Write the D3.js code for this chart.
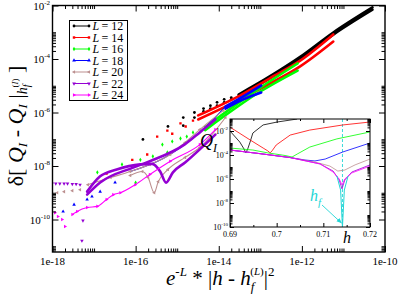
<!DOCTYPE html>
<html>
<head>
<meta charset="utf-8">
<script src="https://cdn.jsdelivr.net/npm/d3@7"></script>
<style>
  body { margin: 0; background: #fff; }
  svg { display: block; }
  text { font-family: "Liberation Serif", "DejaVu Serif", serif; fill: #000; }
  .domain { display: none; }
  .tick line { stroke: #000; }
</style>
</head>
<body>
<svg id="chart" width="399" height="302"></svg>
<script>
var sizes = [12, 14, 16, 18, 20, 22, 24];
var colors = ["#000000", "#ff0000", "#00ff00", "#0000ff", "#bc8f8f", "#9400d3", "#ff00ff"];
var xTickValues = [1e-18, 1e-16, 1e-14, 1e-12, 1e-10];
var xTickLabels = ["1e-18", "1e-16", "1e-14", "1e-12", "1e-10"];
var yTickExps = [-10, -8, -6, -4, -2];
var insetXTicks = [0.69, 0.7, 0.71, 0.72];
var insetXLabels = ["0.69", "0.7", "0.71", "0.72"];
var insetYExps = [-10, -8, -6, -4, -2];
var hf = 0.7141;

// main panel: [e^-L |h-hf|^2, deviation]
var dots12 = [[1.5e-16, 9.8e-8], [6.0e-16, 3.0e-7], [1.4e-15, 6.5e-7], [1.4e-15, 3.2e-7],
  [2.6e-15, 1.0e-6], [2.6e-15, 6.5e-7], [4.3e-15, 1.4e-6], [4.3e-15, 1.1e-6],
  [6.3e-15, 1.8e-6], [6.3e-15, 1.4e-6], [9.1e-15, 2.4e-6], [9.1e-15, 1.8e-6],
  [1.35e-14, 3.1e-6], [1.35e-14, 2.4e-6], [2.0e-14, 3.6e-6], [2.0e-14, 3.1e-6]];
var band12a = [[3.0e-14, 4.7e-6], [1.5e-13, 2.0e-5], [9.1e-13, 1.2e-4], [5.7e-12, 9.8e-4], [5.0e-11, 8.5e-3]];
var band12b = [[3.0e-14, 4.0e-6], [1.5e-13, 1.7e-5], [9.1e-13, 1.0e-4], [5.7e-12, 8.2e-4], [5.0e-11, 7.0e-3]];

var dots14 = [[2.0e-17, 5.2e-9], [8.3e-17, 1.7e-8], [1.9e-16, 2.7e-8], [3.3e-16, 1.26e-7],
  [5.8e-16, 2.1e-7], [7.6e-16, 1.6e-7], [1.2e-15, 3.9e-7], [1.6e-15, 3.0e-7], [2.4e-15, 5.0e-7]];
var band14a = [[3.2e-15, 7.8e-7], [3.3e-14, 4.4e-6], [1.7e-13, 1.9e-5], [9.1e-13, 8.7e-5], [5.7e-12, 8.3e-4]];
var band14b = [[3.2e-15, 5.5e-7], [3.3e-14, 3.1e-6], [1.7e-13, 1.2e-5], [9.1e-13, 5.3e-5], [5.7e-12, 4.5e-4]];

var dots16 = [[1.2e-17, 5.8e-9], [4.7e-17, 1.15e-8], [1.0e-16, 2.4e-9], [1.3e-16, 1.7e-8],
  [2.6e-16, 2.3e-8], [5.8e-16, 3.2e-8], [4.4e-16, 6.3e-8], [7.6e-16, 8.3e-8],
  [1.2e-15, 1.07e-7], [1.7e-15, 1.26e-7], [2.4e-15, 1.8e-7]];
var band16a = [[4.7e-15, 2.8e-7], [1.0e-13, 8.5e-6], [7.9e-13, 6.8e-5]];
var band16b = [[4.7e-15, 2.2e-7], [1.0e-13, 6.1e-6], [7.9e-13, 3.7e-5]];

var dots18 = [[1.8e-18, 2.0e-10], [3.3e-18, 3.6e-10], [6.8e-18, 5.6e-10], [8.9e-18, 7.2e-10],
  [1.4e-17, 1.1e-9], [3.2e-17, 2.4e-9]];
var line18 = [[7.4e-17, 6.2e-9], [4.6e-16, 1.9e-8], [3.5e-15, 1.8e-7], [1.45e-14, 1.66e-6]];
var band18a = [[1.45e-14, 1.66e-6], [3.9e-14, 4.0e-6], [1.05e-13, 1.02e-5]];
var band18b = [[1.45e-14, 1.4e-6], [3.9e-14, 3.1e-6], [1.05e-13, 5.6e-6]];

var dots20 = [[1.3e-18, 1.0e-9], [1.9e-18, 1.1e-9], [3.0e-18, 1.2e-9], [4.6e-18, 1.3e-9]];
var arc20 = [[7.1e-18, 2.0e-9], [2.5e-17, 3.7e-9], [7.4e-17, 6.2e-9], [2.2e-16, 1.15e-8],
  [6.8e-16, 2.7e-8], [1.55e-15, 7.6e-8], [3.5e-15, 2.3e-7], [1.3e-14, 1.2e-6]];
var vee20 = [[7.4e-17, 4.4e-9], [1.45e-16, 6.2e-9], [2.0e-16, 3.7e-9], [2.8e-16, 1.0e-9],
  [3.5e-16, 2.6e-9], [6.0e-16, 7.4e-9], [1.55e-15, 2.1e-8], [3.5e-15, 4.9e-8], [1.45e-14, 6.5e-7]];

var dots22 = [[9.8e-19, 2.2e-9], [1.2e-18, 2.2e-9], [1.5e-18, 2.2e-9], [1.9e-18, 2.2e-9],
  [2.3e-18, 2.2e-9], [3.0e-18, 2.1e-9], [3.7e-18, 2.1e-9], [4.6e-18, 2.0e-9],
  [5.1e-18, 1.6e-11], [5.4e-18, 9.1e-11]];
var arc22a = [[6.8e-18, 1.1e-9], [1.4e-17, 4.1e-9], [3.5e-17, 7.4e-9], [1.3e-16, 1.15e-8],
  [2.5e-16, 1.2e-8], [3.9e-16, 6.2e-9], [5.4e-16, 2.4e-9], [7.9e-16, 5.8e-9],
  [1.55e-15, 1.35e-8], [3.5e-15, 4.2e-8], [8.3e-15, 1.5e-7]];
var arc22b = [[6.8e-18, 8.5e-10], [1.4e-17, 2.4e-9], [8.7e-17, 8.7e-9], [2.2e-16, 1.5e-8],
  [1.55e-15, 6.6e-8], [3.5e-15, 1.8e-7], [8.3e-15, 5.5e-7]];

var dots24 = [[8.7e-19, 2.0e-10], [1.15e-18, 1.8e-10], [1.35e-18, 1.3e-10], [1.7e-18, 1.0e-10],
  [2.0e-18, 5.5e-11]];
var line24 = [[3.0e-18, 1.55e-10], [3.9e-18, 2.0e-10], [6.8e-18, 2.8e-10], [1.2e-17, 3.1e-10],
  [2.0e-17, 5.6e-10], [2.9e-17, 8.5e-10], [4.3e-17, 1.0e-9], [9.8e-17, 2.0e-9],
  [2.2e-16, 4.8e-9], [6.8e-16, 1.5e-8], [3.5e-15, 6.3e-8], [8.3e-15, 2.3e-7]];

// inset: [h, Q]
var inset12 = [[0.690, 1.0e-2], [0.6921, 1.2e-3], [0.6930, 3.2e-4], [0.6934, 1.5e-4], [0.6938, 3.2e-4],
  [0.6943, 1.2e-3], [0.6949, 6.8e-3], [0.6971, 3.2e-2], [0.7001, 5.6e-2], [0.7044, 0.1]];
var inset14 = [[0.690, 2.1e-2], [0.6943, 1.8e-3], [0.6971, 3.8e-4], [0.6981, 2.2e-4], [0.6986, 1.5e-4],
  [0.6990, 2.2e-4], [0.6999, 6.8e-4], [0.7029, 4.6e-3], [0.7071, 1.2e-2], [0.7142, 3.2e-2], [0.720, 5.6e-2]];
var inset16 = [[0.690, 3.8e-4], [0.6949, 2.6e-4], [0.6981, 1.5e-4], [0.7018, 9.1e-5], [0.7033, 6.8e-5],
  [0.7044, 1.2e-4], [0.7071, 4.6e-4], [0.7129, 2.2e-3], [0.720, 8.3e-3]];
var inset18 = [[0.690, 2.6e-4], [0.6964, 1.3e-4], [0.7029, 6.1e-5], [0.7061, 3.8e-5], [0.7082, 3.2e-5],
  [0.7104, 4.6e-5], [0.7142, 1.8e-4], [0.720, 1.0e-3]];
var inset20 = [[0.690, 2.6e-4], [0.6964, 1.3e-4], [0.7029, 6.1e-5], [0.7082, 2.6e-5], [0.7114, 1.2e-5],
  [0.7131, 4.6e-6], [0.7146, 5.6e-6], [0.7168, 1.5e-5], [0.720, 4.6e-5]];
var inset22 = [[0.690, 2.6e-4], [0.6964, 1.3e-4], [0.7029, 6.1e-5], [0.7093, 1.8e-5], [0.7121, 4.6e-6],
  [0.7134, 8.3e-7], [0.7140, 1.5e-7], [0.7146, 8.3e-7], [0.7161, 3.8e-6], [0.720, 1.5e-5]];
var inset24 = [[0.690, 2.6e-4], [0.6964, 1.3e-4], [0.7029, 6.1e-5], [0.7093, 1.8e-5], [0.7121, 3.8e-6],
  [0.7134, 1.0e-6], [0.7140, 3.2e-7], [0.7146, 1.0e-6], [0.7161, 3.2e-6], [0.720, 1.2e-5]];
var insetHf = [[0.7129, 1.8e-6], [0.7137, 1.2e-7], [0.7141, 1.0e-10], [0.7145, 1.2e-7], [0.7153, 1.8e-6]];

var series = [
  { dots: dots12, thin: [], thick: [band12a, band12b], inset: inset12 },
  { dots: dots14, thin: [], thick: [band14a, band14b], inset: inset14 },
  { dots: dots16, thin: [], thick: [band16a, band16b], inset: inset16 },
  { dots: dots18, thin: [line18], thick: [band18a, band18b], inset: inset18 },
  { dots: dots20.concat(arc20, vee20), thin: [arc20, vee20], thick: [], inset: inset20 },
  { dots: dots22, thin: [], thick: [arc22a, arc22b], inset: inset22 },
  { dots: dots24.concat(line24), thin: [line24], thick: [], inset: inset24 }
];
var symTypes = [d3.symbolCircle, d3.symbolSquare, d3.symbolDiamond, d3.symbolTriangle,
  d3.symbolTriangle, d3.symbolTriangle, d3.symbolTriangle];
var symRot = [0, 0, 0, 0, -90, 180, 90];
var cyan = "#22d6d6";

var svg = d3.select("#chart");
var x = d3.scaleLog().domain([1e-18, 1e-10]).range([52.5, 385]);
var y = d3.scaleLog().domain([6.1e-12, 1e-2]).range([252, 5.5]);

svg.append("clipPath").attr("id", "plotclip").append("rect")
  .attr("x", 52.5).attr("y", 5.5).attr("width", 332.5).attr("height", 246.5);

var plot = svg.append("g").attr("clip-path", "url(#plotclip)");
var line = d3.line().x((d) => x(d[0])).y((d) => y(d[1])).curve(d3.curveMonotoneX);

series.forEach(function (s, i) {
  var g = plot.append("g");
  s.thick.forEach(function (b) {
    g.append("path").datum(b).attr("d", line).attr("fill", "none")
      .attr("stroke", colors[i]).attr("stroke-width", 2.6).attr("stroke-linecap", "round");
  });
  s.thin.forEach(function (b) {
    g.append("path").datum(b).attr("d", line).attr("fill", "none")
      .attr("stroke", colors[i]).attr("stroke-width", 1.1);
  });
  var sym = d3.symbol().type(symTypes[i]).size(i === 0 ? 6 : 5.5);
  g.selectAll(".pt").data(s.dots).enter().append("path")
    .attr("transform", (d) => "translate(" + x(d[0]) + "," + y(d[1]) + ") rotate(" + symRot[i] + ")")
    .attr("d", sym).attr("fill", colors[i]);
});

// ticks
function minors(majors) {
  var out = [];
  majors.forEach(function (v) {
    for (var k = 2; k <= 10; k++) out.push(v * k);
  });
  return out;
}
var xMinor = minors([1e-18, 1e-16, 1e-14, 1e-12]);
var yMinor = minors([1e-12, 1e-10, 1e-8, 1e-6, 1e-4]).filter((v) => v > 6.1e-12 && v < 1e-2);
var yMajor = yTickExps.map((e) => Number("1e" + e));

function tickSet(axis, scale, vals, size, tr) {
  svg.append("g").attr("transform", tr)
    .call(axis(scale).tickValues(vals).tickSize(size).tickFormat(""));
}
tickSet(d3.axisBottom, x, xTickValues, -6, "translate(0,252)");
tickSet(d3.axisBottom, x, xMinor, -3.5, "translate(0,252)");
tickSet(d3.axisTop, x, xTickValues, -6, "translate(0,5.5)");
tickSet(d3.axisTop, x, xMinor, -3.5, "translate(0,5.5)");
tickSet(d3.axisLeft, y, yMajor, -6, "translate(52.5,0)");
tickSet(d3.axisLeft, y, yMinor, -3.5, "translate(52.5,0)");
tickSet(d3.axisRight, y, yMajor, -6, "translate(385,0)");
tickSet(d3.axisRight, y, yMinor, -3.5, "translate(385,0)");

svg.append("rect").attr("x", 52.5).attr("y", 5.5).attr("width", 332.5).attr("height", 246.5)
  .attr("fill", "none").attr("stroke", "#000").attr("stroke-width", 1.4);

xTickValues.forEach(function (v, i) {
  svg.append("text").attr("x", x(v)).attr("y", 265).attr("text-anchor", "middle")
    .style("font-size", "11px").text(xTickLabels[i]);
});
yTickExps.forEach(function (e, i) {
  var t = svg.append("text").attr("x", 50).attr("y", y(yMajor[i]) + 4)
    .attr("text-anchor", "end").style("font-size", "11px");
  t.append("tspan").text("10");
  t.append("tspan").attr("dy", -5).style("font-size", "7px").text(e);
});

// axis titles
var yl = svg.append("text").attr("transform", "translate(23,126) rotate(-90)")
  .attr("text-anchor", "middle").style("font-size", "22px");
yl.append("tspan").text("δ[ ");
yl.append("tspan").style("font-style", "italic").text("Q");
yl.append("tspan").style("font-style", "italic").style("font-size", "13px").attr("dy", 4).text("I");
yl.append("tspan").attr("dy", -4).text(" - ");
yl.append("tspan").style("font-style", "italic").text("Q");
yl.append("tspan").style("font-style", "italic").style("font-size", "13px").attr("dy", 4).text("I");
yl.append("tspan").attr("dy", -4).text(" |");
yl.append("tspan").style("font-style", "italic").style("font-size", "14px").attr("dy", 4).text("h");
yl.append("tspan").style("font-style", "italic").style("font-size", "10px").attr("dy", 3).text("f");
yl.append("tspan").style("font-size", "9px").attr("dy", -12).attr("dx", -3).text("(");
yl.append("tspan").style("font-style", "italic").style("font-size", "9px").text("I");
yl.append("tspan").style("font-size", "9px").text(")");
yl.append("tspan").attr("dy", 5).text(" ]");

var xl = svg.append("text").attr("x", 166).attr("y", 285).style("font-size", "21px");
xl.append("tspan").style("font-style", "italic").text("e");
xl.append("tspan").style("font-size", "13px").attr("dy", -9).text("-");
xl.append("tspan").style("font-size", "13px").style("font-style", "italic").text("L");
xl.append("tspan").attr("dy", 9).text(" * |");
xl.append("tspan").style("font-style", "italic").text("h");
xl.append("tspan").text(" - ");
xl.append("tspan").style("font-style", "italic").text("h");
xl.append("tspan").style("font-style", "italic").style("font-size", "13px").attr("dy", 6).text("f");
xl.append("tspan").style("font-size", "11px").attr("dy", -16).attr("dx", -4).text("(");
xl.append("tspan").style("font-size", "11px").style("font-style", "italic").text("L");
xl.append("tspan").style("font-size", "11px").text(")");
xl.append("tspan").attr("dy", 10).text("|");
xl.append("tspan").style("font-size", "13px").attr("dy", -9).text("2");

// legend
var lg = svg.append("g");
lg.append("rect").attr("x", 69.5).attr("y", 20.5).attr("width", 58).attr("height", 80)
  .attr("fill", "#fff").attr("stroke", "#000").attr("stroke-width", 1);
sizes.forEach(function (L, i) {
  var ly = 26 + i * 11.5;
  lg.append("line").attr("x1", 74).attr("x2", 89).attr("y1", ly).attr("y2", ly)
    .attr("stroke", colors[i]).attr("stroke-width", 1);
  var sym = d3.symbol().type(symTypes[i]).size(6);
  [74, 89].forEach(function (lx) {
    lg.append("path").attr("transform", "translate(" + lx + "," + ly + ") rotate(" + symRot[i] + ")")
      .attr("d", sym).attr("fill", colors[i]);
  });
  lg.append("text").attr("x", 92.5).attr("y", ly + 4).style("font-size", "12px")
    .style("font-style", "italic").text("L");
  lg.append("text").attr("x", 101.5).attr("y", ly + 4).style("font-size", "12px")
    .text("= " + L);
});

// inset
var ix = d3.scaleLinear().domain([0.69, 0.72]).range([230, 370]);
var iy = d3.scaleLog().domain([1e-10, 1e-1]).range([227, 119]);
var inset = svg.append("g");
inset.append("rect").attr("x", 230).attr("y", 119).attr("width", 140).attr("height", 108).attr("fill", "#fff");
svg.append("clipPath").attr("id", "insetclip").append("rect")
  .attr("x", 230).attr("y", 119).attr("width", 140).attr("height", 108);
var ig = inset.append("g").attr("clip-path", "url(#insetclip)");
var iline = d3.line().x((d) => ix(d[0])).y((d) => iy(d[1]));

ig.append("line").attr("x1", ix(hf)).attr("x2", ix(hf)).attr("y1", 119).attr("y2", 227)
  .attr("stroke", cyan).attr("stroke-width", 0.9).attr("stroke-dasharray", "3,2");
series.forEach(function (s, i) {
  ig.append("path").datum(s.inset).attr("d", iline).attr("fill", "none")
    .attr("stroke", colors[i]).attr("stroke-width", 0.8);
});
ig.append("path").datum(insetHf).attr("d", iline).attr("fill", "none")
  .attr("stroke", cyan).attr("stroke-width", 1);

var iyMajor = insetYExps.map((e) => Number("1e" + e));
var iyMinor = minors(iyMajor).filter((v) => v <= 1e-1);
function itickSet(axis, scale, vals, size, tr) {
  inset.append("g").attr("transform", tr)
    .call(axis(scale).tickValues(vals).tickSize(size).tickFormat(""));
}
itickSet(d3.axisBottom, ix, insetXTicks, -4, "translate(0,227)");
itickSet(d3.axisBottom, ix, [0.695, 0.705, 0.715], -2, "translate(0,227)");
itickSet(d3.axisTop, ix, insetXTicks, -4, "translate(0,119)");
itickSet(d3.axisTop, ix, [0.695, 0.705, 0.715], -2, "translate(0,119)");
itickSet(d3.axisLeft, iy, iyMajor, -4, "translate(230,0)");
itickSet(d3.axisLeft, iy, iyMinor, -2.5, "translate(230,0)");
itickSet(d3.axisRight, iy, iyMajor, -4, "translate(370,0)");
itickSet(d3.axisRight, iy, iyMinor, -2.5, "translate(370,0)");
inset.append("rect").attr("x", 230).attr("y", 119).attr("width", 140).attr("height", 108)
  .attr("fill", "none").attr("stroke", "#000").attr("stroke-width", 1);

insetXTicks.forEach(function (v, i) {
  inset.append("text").attr("x", ix(v)).attr("y", 237).attr("text-anchor", "middle")
    .style("font-size", "8px").text(insetXLabels[i]);
});
insetYExps.forEach(function (e, i) {
  var t = inset.append("text").attr("x", 228).attr("y", iy(iyMajor[i]) + 3)
    .attr("text-anchor", "end").style("font-size", "8px");
  t.append("tspan").text("10");
  t.append("tspan").attr("dy", -4).style("font-size", "5px").text(e);
});
var qt = inset.append("text").attr("x", 200).attr("y", 147).style("font-size", "18px");
qt.append("tspan").style("font-style", "italic").text("Q");
qt.append("tspan").style("font-style", "italic").style("font-size", "12px").attr("dy", 5).text("I");
inset.append("text").attr("x", 343).attr("y", 243).style("font-size", "16px")
  .style("font-style", "italic").text("h");

// h_f marker
var hl = inset.append("text").attr("x", 310).attr("y", 201).style("font-size", "16px")
  .style("font-style", "italic").style("fill", cyan);
hl.append("tspan").text("h");
hl.append("tspan").style("font-size", "11px").attr("dy", 5).text("f");
svg.append("defs").append("marker").attr("id", "arr").attr("viewBox", "0 0 10 10")
  .attr("refX", 9).attr("refY", 5).attr("markerWidth", 6).attr("markerHeight", 6)
  .attr("orient", "auto").append("path").attr("d", "M0,1L10,5L0,9Z").attr("fill", cyan);
inset.append("line").attr("x1", 322).attr("y1", 205).attr("x2", ix(hf) - 1).attr("y2", 223)
  .attr("stroke", cyan).attr("stroke-width", 0.9).attr("marker-end", "url(#arr)");
</script>
</body>
</html>
